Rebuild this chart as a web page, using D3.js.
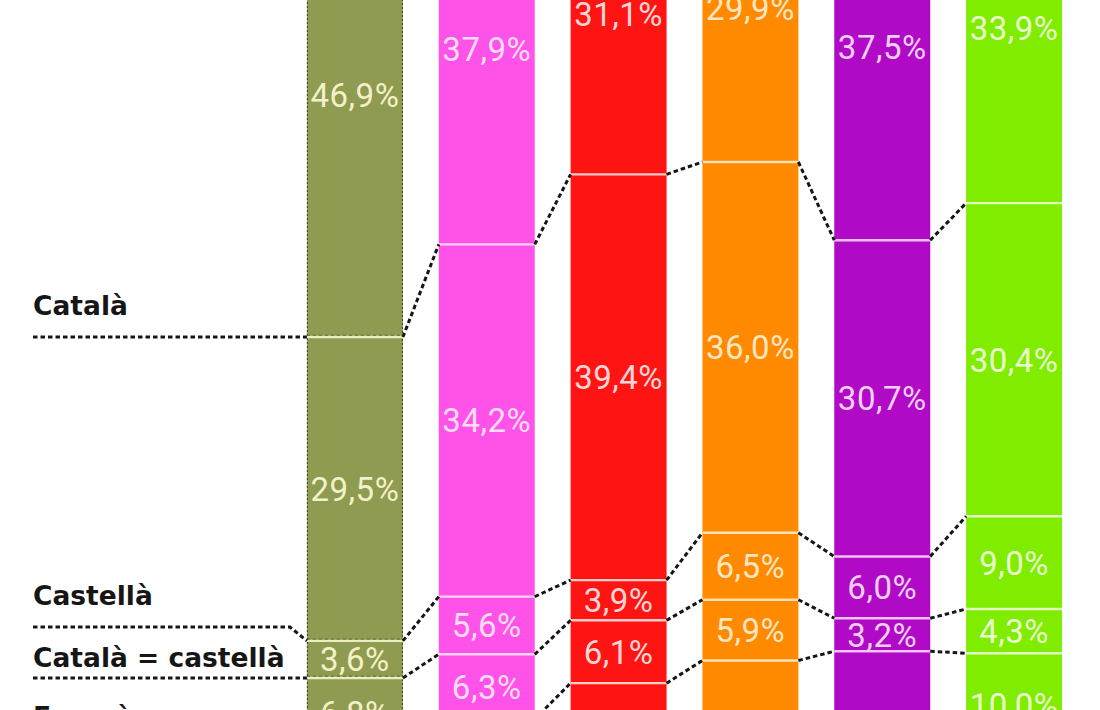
<!DOCTYPE html>
<html>
<head>
<meta charset="utf-8">
<script src="https://cdn.jsdelivr.net/npm/d3@7"></script>
<style>
  html, body { margin: 0; padding: 0; background: #ffffff; }
  svg { display: block; }
</style>
</head>
<body>
<svg id="chart" width="1100" height="710"></svg>
<script>
// ---- data ----
const bars = ["b1", "b2", "b3", "b4", "b5", "b6"];
const categories = ["Català", "Castellà", "Català = castellà", "Francès"];
const catala   = [46.9, 37.9, 31.1, 29.9, 37.5, 33.9];
const castella = [29.5, 34.2, 39.4, 36.0, 30.7, 30.4];
const igual    = [3.6, 5.6, 3.9, 6.5, 6.0, 9.0];
const frances  = [6.8, 6.3, 6.1, 5.9, 3.2, 4.3];
const seguent  = [null, null, null, null, null, 10.0];
const levels = [catala, castella, igual, frances, seguent];

// ---- styles ----
const barColors = ["#8f9b50", "#ff52e8", "#ff1414", "#ff8a00", "#b00ac6", "#7fec00"];
const lineColors = ["#f4f1c8", "#ffdcf8", "#ffd6d6", "#ffe6c0", "#f4d0f8", "#eaffd0"];

const svg = d3.select("#chart");

const x = d3.scaleBand()
  .domain(bars)
  .range([289, 1080])
  .paddingInner(0.272)
  .paddingOuter(0.136);

const y = d3.scaleLinear().domain([0, 100]).range([-146, 884]);

const fmt = v => d3.format(".1f")(v).replace(".", ",") + "%";

// cumulative boundaries per bar
const stacks = bars.map((b, i) => {
  let c = 0;
  const segs = [];
  levels.forEach((arr, k) => {
    const v = arr[i];
    if (v == null) return;
    segs.push({ k, v, y0: c, y1: c + v });
    c += v;
  });
  return segs;
});

// bars (full 100%)
const g = svg.append("g");
bars.forEach((b, i) => {
  g.append("rect")
    .attr("x", x(b)).attr("width", x.bandwidth())
    .attr("y", y(0)).attr("height", y(100) - y(0))
    .attr("fill", barColors[i]);
});

// bar 1 dashed outline
g.append("rect")
  .attr("x", x(bars[0]) + 0.5).attr("width", x.bandwidth() - 1)
  .attr("y", y(0)).attr("height", y(100) - y(0))
  .attr("fill", "none").attr("stroke", "#2e2e1c")
  .attr("stroke-width", 1.2).attr("stroke-dasharray", "2,2").attr("opacity", 0.7);

// boundary lines within bars
bars.forEach((b, i) => {
  stacks[i].forEach(s => {
    g.append("line")
      .attr("x1", x(b)).attr("x2", x(b) + x.bandwidth())
      .attr("y1", y(s.y1)).attr("y2", y(s.y1))
      .attr("stroke", lineColors[i]).attr("stroke-width", 2.4).attr("opacity", 0.95);
    if (i === 0) {
      g.append("line")
        .attr("x1", x(b)).attr("x2", x(b) + x.bandwidth())
        .attr("y1", y(s.y1) - 1.8).attr("y2", y(s.y1) - 1.8)
        .attr("stroke", "#2a2a1a").attr("stroke-width", 1)
        .attr("stroke-dasharray", "3,3").attr("opacity", 0.5);
    }
  });
});

// segment labels
bars.forEach((b, i) => {
  stacks[i].forEach(s => {
    g.append("text")
      .attr("x", x(b) + x.bandwidth() / 2)
      .attr("y", y((s.y0 + s.y1) / 2))
      .attr("dy", "0.36em")
      .attr("text-anchor", "middle")
      .attr("font-family", "Roboto, 'DejaVu Sans', sans-serif")
      .attr("font-size", 33)
      .attr("letter-spacing", "0.5px")
      .attr("fill", lineColors[i])
      .text(fmt(s.v));
  });
});

// connectors between bars
const conn = svg.append("g")
  .attr("fill", "none").attr("stroke", "#161616")
  .attr("stroke-width", 3).attr("stroke-dasharray", "4.5,3");

for (let k = 0; k < categories.length; k++) {
  for (let i = 0; i < bars.length - 1; i++) {
    const a = stacks[i][k], c = stacks[i + 1][k];
    if (!a || !c) continue;
    conn.append("line")
      .attr("x1", x(bars[i]) + x.bandwidth()).attr("y1", y(a.y1))
      .attr("x2", x(bars[i + 1])).attr("y2", y(c.y1));
  }
}

// left category labels with leader lines
const bx = x(bars[0]);
const b0 = stacks[0].map(s => y(s.y1));
let prevLine = -Infinity;
categories.forEach((name, k) => {
  const bY = b0[k];
  const nextB = (k + 1 < b0.length) ? b0[k + 1] : Infinity;
  const lineY = Math.min(bY, nextB - 51);
  conn.append("path")
    .attr("d", `M33,${lineY} H${bx - 17} L${bx},${bY}`);
  const base = Math.max(lineY - 22, prevLine + 40);
  svg.append("text")
    .attr("x", 33).attr("y", base)
    .attr("font-family", "'DejaVu Sans', sans-serif")
    .attr("font-weight", "bold")
    .attr("font-size", 26.5)
    .attr("fill", "#161616")
    .text(name);
  prevLine = lineY;
});
</script>
</body>
</html>
